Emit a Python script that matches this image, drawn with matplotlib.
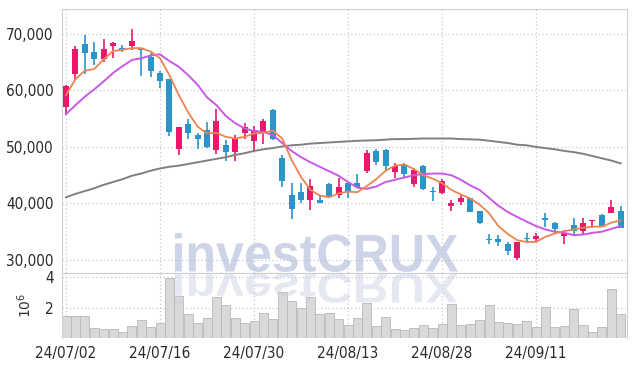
# Candlestick chart with moving averages and volume panel, investCRUX style.

import numpy as np
import matplotlib.pyplot as plt
from matplotlib import font_manager as fm
from matplotlib.textpath import TextPath
from matplotlib.patches import PathPatch
from matplotlib.transforms import Affine2D
from matplotlib.ticker import FuncFormatter

# Data
dates = ["24/07/02", "24/07/03", "24/07/04", "24/07/05", "24/07/08", "24/07/09", "24/07/10",
         "24/07/11", "24/07/12", "24/07/15", "24/07/16", "24/07/17", "24/07/18", "24/07/19",
         "24/07/22", "24/07/23", "24/07/24", "24/07/25", "24/07/26", "24/07/29", "24/07/30",
         "24/07/31", "24/08/01", "24/08/02", "24/08/05", "24/08/06", "24/08/07", "24/08/08",
         "24/08/09", "24/08/12", "24/08/13", "24/08/14", "24/08/16", "24/08/19", "24/08/20",
         "24/08/21", "24/08/22", "24/08/23", "24/08/26", "24/08/27", "24/08/28", "24/08/29",
         "24/08/30", "24/09/02", "24/09/03", "24/09/04", "24/09/05", "24/09/06", "24/09/09",
         "24/09/10", "24/09/11", "24/09/12", "24/09/13", "24/09/19", "24/09/20", "24/09/23",
         "24/09/24", "24/09/25", "24/09/26", "24/09/27"]

opens = [57000, 63000, 68200, 66800, 65500, 67900, 67600, 67800, 67400, 66000,
         63100, 62000, 49600, 54000, 52100, 53000, 49500, 50400, 49200, 52500,
         51100, 52400, 56500, 48000, 41500, 42000, 40600, 40600, 43400, 41500,
         43600, 43700, 45800, 49300, 49500, 45600, 46800, 43400, 46700, 42100,
         41800, 39600, 40300, 40900, 38700, 33600, 33700, 32800, 30400, 33800,
         33800, 37500, 36500, 34300, 36200, 35200, 36900, 38000, 38400, 38700]
closes = [60800, 67300, 66700, 65500, 67300, 68400, 67200, 68800, 67200, 63500,
          61700, 52700, 53500, 52400, 51400, 50000, 54600, 49200, 51500, 53500,
          53000, 54600, 51400, 43900, 39000, 40600, 43100, 40100, 41300, 42900,
          42000, 42900, 48900, 47400, 46700, 46600, 45200, 45900, 42600, 42000,
          44000, 40000, 40900, 38500, 36600, 33500, 33100, 31600, 33200, 33700,
          34200, 37000, 35500, 34800, 35200, 36600, 37000, 35900, 39400, 35700]
highs = [61000, 67900, 69800, 68500, 69100, 68600, 68000, 70800, 67500, 66600,
         63500, 62000, 53500, 55000, 52400, 54500, 56700, 51200, 52200, 54200,
         53800, 54900, 56700, 48600, 43700, 43600, 44300, 41300, 43600, 44500,
         43600, 45300, 49500, 49600, 49700, 47200, 47200, 46200, 46900, 42900,
         44300, 40700, 41500, 41000, 38700, 34600, 34400, 33100, 33200, 34800,
         34800, 38300, 36800, 35300, 37400, 37400, 37000, 38100, 40600, 39600]
lows = [55800, 61900, 62900, 64500, 65100, 65700, 66800, 67200, 62600, 62300,
        60500, 52000, 48600, 51400, 49600, 49800, 48800, 47500, 47500, 51500,
        49300, 50500, 51200, 43000, 37200, 40000, 38800, 40000, 40900, 40900,
        41000, 42900, 45400, 46900, 45900, 44500, 44700, 43000, 42400, 40400,
        41700, 38700, 39700, 38500, 36400, 32800, 32500, 30900, 30000, 33000,
        33200, 35900, 34600, 32800, 34600, 34400, 35700, 35800, 38400, 35700]
volumes = [1.51, 1.51, 1.51, 0.73, 0.67, 0.67, 0.50, 0.88, 1.26, 0.80,
           1.05, 3.94, 2.78, 1.64, 1.05, 1.37, 2.70, 2.19, 1.37, 1.05,
           1.20, 1.68, 1.30, 3.05, 2.48, 2.00, 2.73, 1.62, 1.68, 1.30,
           0.92, 1.37, 2.32, 0.86, 1.47, 0.67, 0.61, 0.73, 0.92, 0.73,
           1.00, 2.25, 0.92, 0.99, 1.24, 2.19, 1.13, 1.07, 0.99, 1.18,
           0.80, 2.06, 0.80, 0.86, 1.94, 0.92, 0.50, 0.80, 3.20, 1.64]  # millions

ma5 = [59200, 62000, 63500, 63800, 65500, 67000, 67200, 67500, 67500, 66900,
       65700, 62700, 59200, 56100, 53600, 52400, 52500, 51800, 51500, 51800,
       52400, 52500, 52900, 51500, 47700, 44700, 42400, 41400, 41100, 41800,
       42100, 42000, 43100, 44300, 45800, 46700, 46900, 46100, 45000, 44400,
       43600, 42400, 41600, 40900, 39800, 38300, 36000, 34600, 33500, 33200,
       33200, 34100, 34700, 35100, 35400, 35700, 35900, 35900, 36600, 37000]
ma20 = [55800, 57400, 58900, 60200, 61600, 63100, 64300, 65400, 65700, 66200,
        66400, 65200, 64200, 62700, 61000, 58800, 57400, 55500, 54200, 53300,
        52800, 52700, 52100, 50700, 49300, 48200, 47300, 46500, 45700, 44900,
        43800, 42800, 42600, 43000, 43800, 44200, 44600, 45000, 45200, 45300,
        45300, 45000, 44200, 43200, 42400, 41000, 39600, 38500, 37600, 36800,
        36000, 35400, 35000, 34800, 34400, 34500, 34800, 35000, 35500, 36000]
ma120 = [41100, 41700, 42200, 42700, 43300, 43800, 44300, 44900, 45300, 45800,
         46200, 46500, 46700, 47000, 47300, 47600, 47900, 48200, 48600, 48900,
         49300, 49600, 49800, 50100, 50300, 50400, 50600, 50700, 50800, 50900,
         51000, 51100, 51150, 51200, 51300, 51400, 51400, 51450, 51500, 51500,
         51500, 51500, 51400, 51350, 51300, 51100, 50900, 50700, 50400, 50300,
         50000, 49800, 49600, 49300, 49100, 48800, 48400, 48000, 47600, 47100]

red = "#e6196b"
blue = "#2b95c9"
grid_kw = dict(color="#c3c9da", linestyle=(0, (1, 2)), linewidth=0.9)


def narrow_font(size):
    # a condensed face looks closest to the original tick labels
    for f in fm.fontManager.ttflist:
        if f.name == "Liberation Sans Narrow" and f.style == "normal" and f.weight in (400, "normal"):
            return fm.FontProperties(fname=f.fname, size=size)
    for f in fm.fontManager.ttflist:
        if f.name == "DejaVu Sans" and f.stretch == "condensed" and f.style == "normal" \
                and f.weight in (400, "normal", "book"):
            return fm.FontProperties(fname=f.fname, size=size)
    return fm.FontProperties(family="Roboto", size=size)


tick_fp = narrow_font(11)

o = np.array(opens, dtype=float)
c = np.array(closes, dtype=float)
h = np.array(highs, dtype=float)
l = np.array(lows, dtype=float)
x = np.arange(len(dates))
colors = np.where(c >= o, red, blue)

fig = plt.figure(figsize=(6.35, 3.66), dpi=100)
ax = fig.add_axes([62 / 635, 1 - 272.7 / 366, 565 / 635, 263.4 / 366])
axv = fig.add_axes([62 / 635, 1 - 337.5 / 366, 565 / 635, 64.8 / 366], sharex=ax)

# candles
ax.vlines(x, l, h, color=colors, linewidth=1.2, zorder=2)
body_h = np.maximum(np.abs(c - o), 250)
ax.bar(x, body_h, bottom=np.minimum(o, c), width=0.64, color=colors, linewidth=0, zorder=3)

# moving averages
ax.plot(x, ma120, color="#808080", linewidth=1.4, zorder=4)
ax.plot(x, ma20, color="#c858e6", linewidth=1.4, zorder=4)
ax.plot(x, ma5, color="#ee8450", linewidth=1.3, zorder=5)

ax.set_xlim(-0.43, 59.68)
ax.set_ylim(27750, 74370)
ax.set_yticks([30000, 40000, 50000, 60000, 70000])
ax.yaxis.set_major_formatter(FuncFormatter(lambda v, p: f"{int(v):,}"))
ax.grid(True, **grid_kw)
ax.set_axisbelow(True)

# volume
axv.bar(x, volumes, width=0.96, color="#d9d9d9", edgecolor="#b8b8b8", linewidth=0.6)
axv.set_ylim(0.15, 4.25)
axv.set_yticks([2, 4])
axv.grid(True, **grid_kw)
axv.set_axisbelow(True)
axv.set_ylabel(r"$10^6$", fontsize=10, color="#333333", labelpad=8)

tick_pos = x[::10]
axv.set_xticks(tick_pos)
axv.set_xticklabels([dates[i] for i in tick_pos])
plt.setp(ax.get_xticklabels(), visible=False)

for a in (ax, axv):
    a.tick_params(length=0, labelcolor="#2a2a2a", pad=6)
    for lab in a.get_xticklabels() + a.get_yticklabels():
        lab.set_fontproperties(tick_fp)
    for s in a.spines.values():
        s.set_color("#d0d0d0")
axv.spines["bottom"].set_visible(False)

# watermark with reflection
tp = TextPath((0, 0), "investCRUX", size=50,
              prop=fm.FontProperties(family="Liberation Sans", weight="bold"))
ext = tp.get_extents()
sx = 283 / ext.width
t_main = (Affine2D().translate(-ext.x0, -ext.y0).scale(sx, 39 / ext.height)
          .translate(175, 366 - 272).scale(0.01) + fig.dpi_scale_trans)
fig.patches.append(PathPatch(tp, transform=t_main, facecolor="#b9c2de",
                             edgecolor="none", alpha=0.7, zorder=10))
t_refl = (Affine2D().translate(-ext.x0, -ext.y0).scale(sx, -31 / ext.height)
          .translate(175, 366 - 273).scale(0.01) + fig.dpi_scale_trans)
fig.patches.append(PathPatch(tp, transform=t_refl, facecolor="#c8cde2",
                             edgecolor="none", alpha=0.45, zorder=10))

fig.savefig("out.png", dpi=100)
